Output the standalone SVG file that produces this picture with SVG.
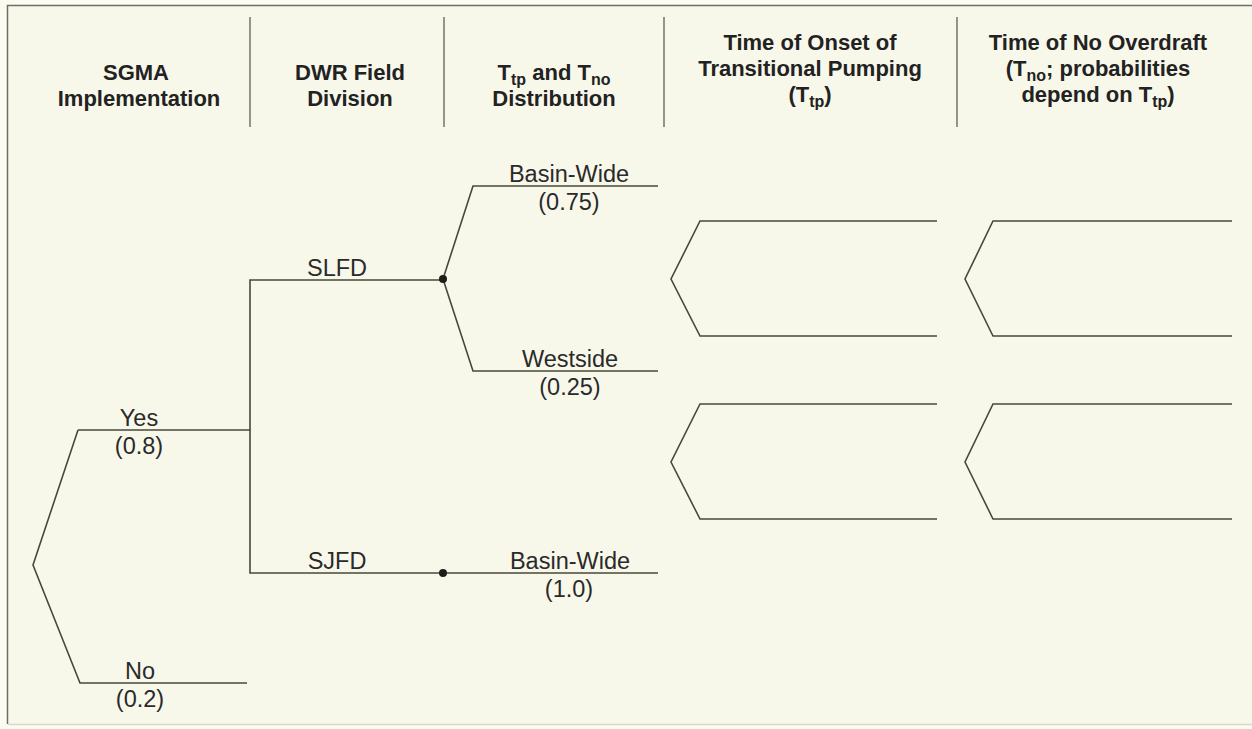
<svg xmlns="http://www.w3.org/2000/svg" width="1252" height="729" viewBox="0 0 1252 729">
  <style>
    .hdr { font-family: "Liberation Sans", Arial, sans-serif; font-weight: bold; font-size: 22px; fill: #222; text-anchor: middle; }
    .sub { font-size: 16px; }
    .lbl { font-family: "Liberation Sans", Arial, sans-serif; font-size: 23.5px; fill: #2a2a2a; text-anchor: middle; }
    .ln { fill: none; stroke: #48483a; stroke-width: 1.6; stroke-linejoin: miter; }
    .div { stroke: #6a6a5e; stroke-width: 1.4; }
    .dot { fill: #1e1e18; }
  </style>

  <!-- page -->
  <rect x="0" y="0" width="1252" height="729" fill="#fbfbf2"/>
  <rect x="8" y="5" width="1250" height="719" fill="#f8f8ea"/>
  <path d="M7.5 724 V5.5 H1252" fill="none" stroke="#6e6e66" stroke-width="1.5"/>
  <path d="M8 724.5 H1252" fill="none" stroke="#d8d8cc" stroke-width="1.5"/>

  <!-- column headings -->
  <g id="headers">
    <line class="div" x1="250" y1="17" x2="250" y2="127"/>
    <line class="div" x1="444" y1="17" x2="444" y2="127"/>
    <line class="div" x1="664" y1="17" x2="664" y2="127"/>
    <line class="div" x1="957" y1="17" x2="957" y2="127"/>

    <g id="hdr-sgma">
      <text class="hdr" x="136" y="80">SGMA</text>
      <text class="hdr" x="139" y="106">Implementation</text>
    </g>
    <g id="hdr-dwr">
      <text class="hdr" x="350" y="80">DWR Field</text>
      <text class="hdr" x="350" y="106">Division</text>
    </g>
    <g id="hdr-dist">
      <text class="hdr" x="554" y="80">T<tspan class="sub" dy="5">tp</tspan><tspan dy="-5"> and T</tspan><tspan class="sub" dy="5">no</tspan></text>
      <text class="hdr" x="554" y="106">Distribution</text>
    </g>
    <g id="hdr-ttp">
      <text class="hdr" x="810" y="50">Time of Onset of</text>
      <text class="hdr" x="810" y="76">Transitional Pumping</text>
      <text class="hdr" x="810" y="102">(T<tspan class="sub" dy="5">tp</tspan><tspan dy="-5">)</tspan></text>
    </g>
    <g id="hdr-tno">
      <text class="hdr" x="1098" y="50">Time of No Overdraft</text>
      <text class="hdr" x="1098" y="76">(T<tspan class="sub" dy="5">no</tspan><tspan dy="-5">; probabilities</tspan></text>
      <text class="hdr" x="1098" y="102">depend on T<tspan class="sub" dy="5">tp</tspan><tspan dy="-5">)</tspan></text>
    </g>
  </g>

  <!-- branches -->
  <g id="connectors">
    <path class="ln" d="M78 430 L33 565 L80 683 H247"/>
    <path class="ln" d="M78 430 H250 V280 H444"/>
    <path class="ln" d="M250 430 V573 H658"/>
    <path class="ln" d="M658 186 H473 L443 279 L473 371 H658"/>
  </g>

  <!-- chance nodes -->
  <g id="node-slfd"><circle class="dot" cx="443" cy="279" r="4"/></g>
  <g id="node-sjfd"><circle class="dot" cx="443" cy="573" r="4"/></g>

  <!-- outcome labels -->
  <g id="branch-yes">
    <text class="lbl" x="139" y="426">Yes</text>
    <text class="lbl" x="139" y="454">(0.8)</text>
  </g>
  <g id="branch-no">
    <text class="lbl" x="140" y="679">No</text>
    <text class="lbl" x="140" y="707">(0.2)</text>
  </g>
  <g id="branch-slfd"><text class="lbl" x="337" y="276">SLFD</text></g>
  <g id="branch-sjfd"><text class="lbl" x="337" y="569">SJFD</text></g>
  <g id="branch-slfd-basin">
    <text class="lbl" x="569" y="182">Basin-Wide</text>
    <text class="lbl" x="569" y="210">(0.75)</text>
  </g>
  <g id="branch-slfd-westside">
    <text class="lbl" x="570" y="367">Westside</text>
    <text class="lbl" x="570" y="395">(0.25)</text>
  </g>
  <g id="branch-sjfd-basin">
    <text class="lbl" x="570" y="569">Basin-Wide</text>
    <text class="lbl" x="569" y="597">(1.0)</text>
  </g>

  <!-- open brackets for the timing distributions -->
  <g id="ttp-upper"><path class="ln" d="M937 221 H700 L671 279 L700 336 H937"/></g>
  <g id="ttp-lower"><path class="ln" d="M937 404 H700 L671 462 L700 519 H937"/></g>
  <g id="tno-upper"><path class="ln" d="M1232 221 H993 L965 279 L993 336 H1232"/></g>
  <g id="tno-lower"><path class="ln" d="M1232 404 H993 L965 462 L993 519 H1232"/></g>
</svg>
